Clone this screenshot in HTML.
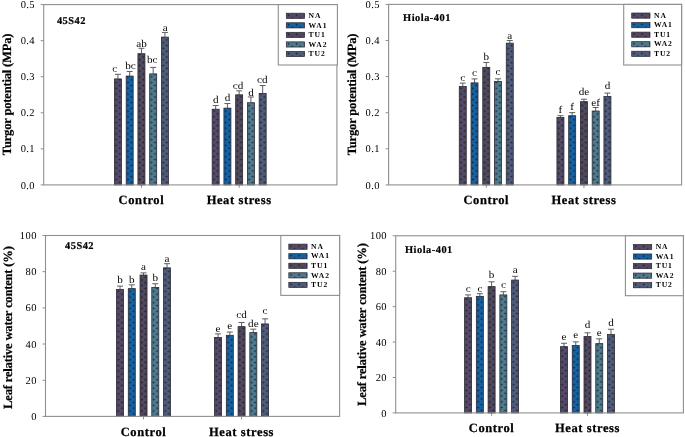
<!DOCTYPE html>
<html><head><meta charset="utf-8"><style>
html,body{margin:0;padding:0;background:#fff;width:685px;height:437px;overflow:hidden}
svg{display:block;filter:blur(0.3px)}
text{font-family:"Liberation Serif",serif;fill:#000;text-rendering:geometricPrecision}
.tk{font-size:10.5px;letter-spacing:0.4px}
.cat{font-size:12.5px;font-weight:bold;letter-spacing:0.6px;stroke:#000;stroke-width:0.25px}
.let{font-size:10.3px}
.pl{font-size:10.4px;font-weight:bold;letter-spacing:0.5px;stroke:#000;stroke-width:0.2px}
.yt{font-size:12.6px;font-weight:bold;letter-spacing:-0.2px;stroke:#000;stroke-width:0.2px}
.lg{font-size:7.6px;font-weight:bold;letter-spacing:0.9px}
</style></head><body>
<svg width="685" height="437" viewBox="0 0 685 437">
<defs><pattern id="btl00" patternUnits="userSpaceOnUse" x="114.43" y="183.80" width="8" height="5.7"><rect width="8" height="5.7" fill="#544a68"/><path d="M1.0 0.15 L3.2 1.4 L1.0 2.65 Z" fill="#1c1a22" opacity="0.85"/><path d="M6.1 3.0 L3.9 4.25 L6.1 5.5 Z" fill="#1c1a22" opacity="0.85"/></pattern><pattern id="btl01" patternUnits="userSpaceOnUse" x="126.18" y="183.80" width="8" height="5.7"><rect width="8" height="5.7" fill="#1362a4"/><path d="M1.0 0.15 L3.2 1.4 L1.0 2.65 Z" fill="#1c1a22" opacity="0.85"/><path d="M6.1 3.0 L3.9 4.25 L6.1 5.5 Z" fill="#1c1a22" opacity="0.85"/></pattern><pattern id="btl02" patternUnits="userSpaceOnUse" x="137.93" y="183.80" width="8" height="5.7"><rect width="8" height="5.7" fill="#50485c"/><path d="M1.0 0.15 L3.2 1.4 L1.0 2.65 Z" fill="#1c1a22" opacity="0.85"/><path d="M6.1 3.0 L3.9 4.25 L6.1 5.5 Z" fill="#1c1a22" opacity="0.85"/></pattern><pattern id="btl03" patternUnits="userSpaceOnUse" x="149.68" y="183.80" width="8" height="5.7"><rect width="8" height="5.7" fill="#4d7b8e"/><path d="M1.0 0.15 L3.2 1.4 L1.0 2.65 Z" fill="#1c1a22" opacity="0.85"/><path d="M6.1 3.0 L3.9 4.25 L6.1 5.5 Z" fill="#1c1a22" opacity="0.85"/></pattern><pattern id="btl04" patternUnits="userSpaceOnUse" x="161.43" y="183.80" width="8" height="5.7"><rect width="8" height="5.7" fill="#4e5b79"/><path d="M1.0 0.15 L3.2 1.4 L1.0 2.65 Z" fill="#1c1a22" opacity="0.85"/><path d="M6.1 3.0 L3.9 4.25 L6.1 5.5 Z" fill="#1c1a22" opacity="0.85"/></pattern><pattern id="btl10" patternUnits="userSpaceOnUse" x="212.17" y="183.80" width="8" height="5.7"><rect width="8" height="5.7" fill="#544a68"/><path d="M1.0 0.15 L3.2 1.4 L1.0 2.65 Z" fill="#1c1a22" opacity="0.85"/><path d="M6.1 3.0 L3.9 4.25 L6.1 5.5 Z" fill="#1c1a22" opacity="0.85"/></pattern><pattern id="btl11" patternUnits="userSpaceOnUse" x="223.92" y="183.80" width="8" height="5.7"><rect width="8" height="5.7" fill="#1362a4"/><path d="M1.0 0.15 L3.2 1.4 L1.0 2.65 Z" fill="#1c1a22" opacity="0.85"/><path d="M6.1 3.0 L3.9 4.25 L6.1 5.5 Z" fill="#1c1a22" opacity="0.85"/></pattern><pattern id="btl12" patternUnits="userSpaceOnUse" x="235.67" y="183.80" width="8" height="5.7"><rect width="8" height="5.7" fill="#50485c"/><path d="M1.0 0.15 L3.2 1.4 L1.0 2.65 Z" fill="#1c1a22" opacity="0.85"/><path d="M6.1 3.0 L3.9 4.25 L6.1 5.5 Z" fill="#1c1a22" opacity="0.85"/></pattern><pattern id="btl13" patternUnits="userSpaceOnUse" x="247.42" y="183.80" width="8" height="5.7"><rect width="8" height="5.7" fill="#4d7b8e"/><path d="M1.0 0.15 L3.2 1.4 L1.0 2.65 Z" fill="#1c1a22" opacity="0.85"/><path d="M6.1 3.0 L3.9 4.25 L6.1 5.5 Z" fill="#1c1a22" opacity="0.85"/></pattern><pattern id="btl14" patternUnits="userSpaceOnUse" x="259.17" y="183.80" width="8" height="5.7"><rect width="8" height="5.7" fill="#4e5b79"/><path d="M1.0 0.15 L3.2 1.4 L1.0 2.65 Z" fill="#1c1a22" opacity="0.85"/><path d="M6.1 3.0 L3.9 4.25 L6.1 5.5 Z" fill="#1c1a22" opacity="0.85"/></pattern><pattern id="ltl0" patternUnits="userSpaceOnUse" x="286.80" y="13.80" width="8" height="5.7"><rect width="8" height="5.7" fill="#544a68"/><path d="M1.0 0.15 L3.2 1.4 L1.0 2.65 Z" fill="#1c1a22" opacity="0.85"/><path d="M6.1 3.0 L3.9 4.25 L6.1 5.5 Z" fill="#1c1a22" opacity="0.85"/></pattern><pattern id="ltl1" patternUnits="userSpaceOnUse" x="286.80" y="23.35" width="8" height="5.7"><rect width="8" height="5.7" fill="#1362a4"/><path d="M1.0 0.15 L3.2 1.4 L1.0 2.65 Z" fill="#1c1a22" opacity="0.85"/><path d="M6.1 3.0 L3.9 4.25 L6.1 5.5 Z" fill="#1c1a22" opacity="0.85"/></pattern><pattern id="ltl2" patternUnits="userSpaceOnUse" x="286.80" y="32.90" width="8" height="5.7"><rect width="8" height="5.7" fill="#50485c"/><path d="M1.0 0.15 L3.2 1.4 L1.0 2.65 Z" fill="#1c1a22" opacity="0.85"/><path d="M6.1 3.0 L3.9 4.25 L6.1 5.5 Z" fill="#1c1a22" opacity="0.85"/></pattern><pattern id="ltl3" patternUnits="userSpaceOnUse" x="286.80" y="42.45" width="8" height="5.7"><rect width="8" height="5.7" fill="#4d7b8e"/><path d="M1.0 0.15 L3.2 1.4 L1.0 2.65 Z" fill="#1c1a22" opacity="0.85"/><path d="M6.1 3.0 L3.9 4.25 L6.1 5.5 Z" fill="#1c1a22" opacity="0.85"/></pattern><pattern id="ltl4" patternUnits="userSpaceOnUse" x="286.80" y="52.00" width="8" height="5.7"><rect width="8" height="5.7" fill="#4e5b79"/><path d="M1.0 0.15 L3.2 1.4 L1.0 2.65 Z" fill="#1c1a22" opacity="0.85"/><path d="M6.1 3.0 L3.9 4.25 L6.1 5.5 Z" fill="#1c1a22" opacity="0.85"/></pattern><pattern id="btr00" patternUnits="userSpaceOnUse" x="459.27" y="183.80" width="8" height="5.7"><rect width="8" height="5.7" fill="#544a68"/><path d="M1.0 0.15 L3.2 1.4 L1.0 2.65 Z" fill="#1c1a22" opacity="0.85"/><path d="M6.1 3.0 L3.9 4.25 L6.1 5.5 Z" fill="#1c1a22" opacity="0.85"/></pattern><pattern id="btr01" patternUnits="userSpaceOnUse" x="471.02" y="183.80" width="8" height="5.7"><rect width="8" height="5.7" fill="#1362a4"/><path d="M1.0 0.15 L3.2 1.4 L1.0 2.65 Z" fill="#1c1a22" opacity="0.85"/><path d="M6.1 3.0 L3.9 4.25 L6.1 5.5 Z" fill="#1c1a22" opacity="0.85"/></pattern><pattern id="btr02" patternUnits="userSpaceOnUse" x="482.77" y="183.80" width="8" height="5.7"><rect width="8" height="5.7" fill="#50485c"/><path d="M1.0 0.15 L3.2 1.4 L1.0 2.65 Z" fill="#1c1a22" opacity="0.85"/><path d="M6.1 3.0 L3.9 4.25 L6.1 5.5 Z" fill="#1c1a22" opacity="0.85"/></pattern><pattern id="btr03" patternUnits="userSpaceOnUse" x="494.52" y="183.80" width="8" height="5.7"><rect width="8" height="5.7" fill="#4d7b8e"/><path d="M1.0 0.15 L3.2 1.4 L1.0 2.65 Z" fill="#1c1a22" opacity="0.85"/><path d="M6.1 3.0 L3.9 4.25 L6.1 5.5 Z" fill="#1c1a22" opacity="0.85"/></pattern><pattern id="btr04" patternUnits="userSpaceOnUse" x="506.27" y="183.80" width="8" height="5.7"><rect width="8" height="5.7" fill="#4e5b79"/><path d="M1.0 0.15 L3.2 1.4 L1.0 2.65 Z" fill="#1c1a22" opacity="0.85"/><path d="M6.1 3.0 L3.9 4.25 L6.1 5.5 Z" fill="#1c1a22" opacity="0.85"/></pattern><pattern id="btr10" patternUnits="userSpaceOnUse" x="556.93" y="183.80" width="8" height="5.7"><rect width="8" height="5.7" fill="#544a68"/><path d="M1.0 0.15 L3.2 1.4 L1.0 2.65 Z" fill="#1c1a22" opacity="0.85"/><path d="M6.1 3.0 L3.9 4.25 L6.1 5.5 Z" fill="#1c1a22" opacity="0.85"/></pattern><pattern id="btr11" patternUnits="userSpaceOnUse" x="568.68" y="183.80" width="8" height="5.7"><rect width="8" height="5.7" fill="#1362a4"/><path d="M1.0 0.15 L3.2 1.4 L1.0 2.65 Z" fill="#1c1a22" opacity="0.85"/><path d="M6.1 3.0 L3.9 4.25 L6.1 5.5 Z" fill="#1c1a22" opacity="0.85"/></pattern><pattern id="btr12" patternUnits="userSpaceOnUse" x="580.43" y="183.80" width="8" height="5.7"><rect width="8" height="5.7" fill="#50485c"/><path d="M1.0 0.15 L3.2 1.4 L1.0 2.65 Z" fill="#1c1a22" opacity="0.85"/><path d="M6.1 3.0 L3.9 4.25 L6.1 5.5 Z" fill="#1c1a22" opacity="0.85"/></pattern><pattern id="btr13" patternUnits="userSpaceOnUse" x="592.18" y="183.80" width="8" height="5.7"><rect width="8" height="5.7" fill="#4d7b8e"/><path d="M1.0 0.15 L3.2 1.4 L1.0 2.65 Z" fill="#1c1a22" opacity="0.85"/><path d="M6.1 3.0 L3.9 4.25 L6.1 5.5 Z" fill="#1c1a22" opacity="0.85"/></pattern><pattern id="btr14" patternUnits="userSpaceOnUse" x="603.93" y="183.80" width="8" height="5.7"><rect width="8" height="5.7" fill="#4e5b79"/><path d="M1.0 0.15 L3.2 1.4 L1.0 2.65 Z" fill="#1c1a22" opacity="0.85"/><path d="M6.1 3.0 L3.9 4.25 L6.1 5.5 Z" fill="#1c1a22" opacity="0.85"/></pattern><pattern id="ltr0" patternUnits="userSpaceOnUse" x="632.20" y="13.60" width="8" height="5.7"><rect width="8" height="5.7" fill="#544a68"/><path d="M1.0 0.15 L3.2 1.4 L1.0 2.65 Z" fill="#1c1a22" opacity="0.85"/><path d="M6.1 3.0 L3.9 4.25 L6.1 5.5 Z" fill="#1c1a22" opacity="0.85"/></pattern><pattern id="ltr1" patternUnits="userSpaceOnUse" x="632.20" y="23.15" width="8" height="5.7"><rect width="8" height="5.7" fill="#1362a4"/><path d="M1.0 0.15 L3.2 1.4 L1.0 2.65 Z" fill="#1c1a22" opacity="0.85"/><path d="M6.1 3.0 L3.9 4.25 L6.1 5.5 Z" fill="#1c1a22" opacity="0.85"/></pattern><pattern id="ltr2" patternUnits="userSpaceOnUse" x="632.20" y="32.70" width="8" height="5.7"><rect width="8" height="5.7" fill="#50485c"/><path d="M1.0 0.15 L3.2 1.4 L1.0 2.65 Z" fill="#1c1a22" opacity="0.85"/><path d="M6.1 3.0 L3.9 4.25 L6.1 5.5 Z" fill="#1c1a22" opacity="0.85"/></pattern><pattern id="ltr3" patternUnits="userSpaceOnUse" x="632.20" y="42.25" width="8" height="5.7"><rect width="8" height="5.7" fill="#4d7b8e"/><path d="M1.0 0.15 L3.2 1.4 L1.0 2.65 Z" fill="#1c1a22" opacity="0.85"/><path d="M6.1 3.0 L3.9 4.25 L6.1 5.5 Z" fill="#1c1a22" opacity="0.85"/></pattern><pattern id="ltr4" patternUnits="userSpaceOnUse" x="632.20" y="51.80" width="8" height="5.7"><rect width="8" height="5.7" fill="#4e5b79"/><path d="M1.0 0.15 L3.2 1.4 L1.0 2.65 Z" fill="#1c1a22" opacity="0.85"/><path d="M6.1 3.0 L3.9 4.25 L6.1 5.5 Z" fill="#1c1a22" opacity="0.85"/></pattern><pattern id="bbl00" patternUnits="userSpaceOnUse" x="116.53" y="415.30" width="8" height="5.7"><rect width="8" height="5.7" fill="#544a68"/><path d="M1.0 0.15 L3.2 1.4 L1.0 2.65 Z" fill="#1c1a22" opacity="0.85"/><path d="M6.1 3.0 L3.9 4.25 L6.1 5.5 Z" fill="#1c1a22" opacity="0.85"/></pattern><pattern id="bbl01" patternUnits="userSpaceOnUse" x="128.28" y="415.30" width="8" height="5.7"><rect width="8" height="5.7" fill="#1362a4"/><path d="M1.0 0.15 L3.2 1.4 L1.0 2.65 Z" fill="#1c1a22" opacity="0.85"/><path d="M6.1 3.0 L3.9 4.25 L6.1 5.5 Z" fill="#1c1a22" opacity="0.85"/></pattern><pattern id="bbl02" patternUnits="userSpaceOnUse" x="140.03" y="415.30" width="8" height="5.7"><rect width="8" height="5.7" fill="#50485c"/><path d="M1.0 0.15 L3.2 1.4 L1.0 2.65 Z" fill="#1c1a22" opacity="0.85"/><path d="M6.1 3.0 L3.9 4.25 L6.1 5.5 Z" fill="#1c1a22" opacity="0.85"/></pattern><pattern id="bbl03" patternUnits="userSpaceOnUse" x="151.78" y="415.30" width="8" height="5.7"><rect width="8" height="5.7" fill="#4d7b8e"/><path d="M1.0 0.15 L3.2 1.4 L1.0 2.65 Z" fill="#1c1a22" opacity="0.85"/><path d="M6.1 3.0 L3.9 4.25 L6.1 5.5 Z" fill="#1c1a22" opacity="0.85"/></pattern><pattern id="bbl04" patternUnits="userSpaceOnUse" x="163.53" y="415.30" width="8" height="5.7"><rect width="8" height="5.7" fill="#4e5b79"/><path d="M1.0 0.15 L3.2 1.4 L1.0 2.65 Z" fill="#1c1a22" opacity="0.85"/><path d="M6.1 3.0 L3.9 4.25 L6.1 5.5 Z" fill="#1c1a22" opacity="0.85"/></pattern><pattern id="bbl10" patternUnits="userSpaceOnUse" x="214.57" y="415.30" width="8" height="5.7"><rect width="8" height="5.7" fill="#544a68"/><path d="M1.0 0.15 L3.2 1.4 L1.0 2.65 Z" fill="#1c1a22" opacity="0.85"/><path d="M6.1 3.0 L3.9 4.25 L6.1 5.5 Z" fill="#1c1a22" opacity="0.85"/></pattern><pattern id="bbl11" patternUnits="userSpaceOnUse" x="226.32" y="415.30" width="8" height="5.7"><rect width="8" height="5.7" fill="#1362a4"/><path d="M1.0 0.15 L3.2 1.4 L1.0 2.65 Z" fill="#1c1a22" opacity="0.85"/><path d="M6.1 3.0 L3.9 4.25 L6.1 5.5 Z" fill="#1c1a22" opacity="0.85"/></pattern><pattern id="bbl12" patternUnits="userSpaceOnUse" x="238.07" y="415.30" width="8" height="5.7"><rect width="8" height="5.7" fill="#50485c"/><path d="M1.0 0.15 L3.2 1.4 L1.0 2.65 Z" fill="#1c1a22" opacity="0.85"/><path d="M6.1 3.0 L3.9 4.25 L6.1 5.5 Z" fill="#1c1a22" opacity="0.85"/></pattern><pattern id="bbl13" patternUnits="userSpaceOnUse" x="249.82" y="415.30" width="8" height="5.7"><rect width="8" height="5.7" fill="#4d7b8e"/><path d="M1.0 0.15 L3.2 1.4 L1.0 2.65 Z" fill="#1c1a22" opacity="0.85"/><path d="M6.1 3.0 L3.9 4.25 L6.1 5.5 Z" fill="#1c1a22" opacity="0.85"/></pattern><pattern id="bbl14" patternUnits="userSpaceOnUse" x="261.57" y="415.30" width="8" height="5.7"><rect width="8" height="5.7" fill="#4e5b79"/><path d="M1.0 0.15 L3.2 1.4 L1.0 2.65 Z" fill="#1c1a22" opacity="0.85"/><path d="M6.1 3.0 L3.9 4.25 L6.1 5.5 Z" fill="#1c1a22" opacity="0.85"/></pattern><pattern id="lbl0" patternUnits="userSpaceOnUse" x="289.30" y="244.70" width="8" height="5.7"><rect width="8" height="5.7" fill="#544a68"/><path d="M1.0 0.15 L3.2 1.4 L1.0 2.65 Z" fill="#1c1a22" opacity="0.85"/><path d="M6.1 3.0 L3.9 4.25 L6.1 5.5 Z" fill="#1c1a22" opacity="0.85"/></pattern><pattern id="lbl1" patternUnits="userSpaceOnUse" x="289.30" y="254.25" width="8" height="5.7"><rect width="8" height="5.7" fill="#1362a4"/><path d="M1.0 0.15 L3.2 1.4 L1.0 2.65 Z" fill="#1c1a22" opacity="0.85"/><path d="M6.1 3.0 L3.9 4.25 L6.1 5.5 Z" fill="#1c1a22" opacity="0.85"/></pattern><pattern id="lbl2" patternUnits="userSpaceOnUse" x="289.30" y="263.80" width="8" height="5.7"><rect width="8" height="5.7" fill="#50485c"/><path d="M1.0 0.15 L3.2 1.4 L1.0 2.65 Z" fill="#1c1a22" opacity="0.85"/><path d="M6.1 3.0 L3.9 4.25 L6.1 5.5 Z" fill="#1c1a22" opacity="0.85"/></pattern><pattern id="lbl3" patternUnits="userSpaceOnUse" x="289.30" y="273.35" width="8" height="5.7"><rect width="8" height="5.7" fill="#4d7b8e"/><path d="M1.0 0.15 L3.2 1.4 L1.0 2.65 Z" fill="#1c1a22" opacity="0.85"/><path d="M6.1 3.0 L3.9 4.25 L6.1 5.5 Z" fill="#1c1a22" opacity="0.85"/></pattern><pattern id="lbl4" patternUnits="userSpaceOnUse" x="289.30" y="282.90" width="8" height="5.7"><rect width="8" height="5.7" fill="#4e5b79"/><path d="M1.0 0.15 L3.2 1.4 L1.0 2.65 Z" fill="#1c1a22" opacity="0.85"/><path d="M6.1 3.0 L3.9 4.25 L6.1 5.5 Z" fill="#1c1a22" opacity="0.85"/></pattern><pattern id="bbr00" patternUnits="userSpaceOnUse" x="464.60" y="411.80" width="8" height="5.7"><rect width="8" height="5.7" fill="#544a68"/><path d="M1.0 0.15 L3.2 1.4 L1.0 2.65 Z" fill="#1c1a22" opacity="0.85"/><path d="M6.1 3.0 L3.9 4.25 L6.1 5.5 Z" fill="#1c1a22" opacity="0.85"/></pattern><pattern id="bbr01" patternUnits="userSpaceOnUse" x="476.35" y="411.80" width="8" height="5.7"><rect width="8" height="5.7" fill="#1362a4"/><path d="M1.0 0.15 L3.2 1.4 L1.0 2.65 Z" fill="#1c1a22" opacity="0.85"/><path d="M6.1 3.0 L3.9 4.25 L6.1 5.5 Z" fill="#1c1a22" opacity="0.85"/></pattern><pattern id="bbr02" patternUnits="userSpaceOnUse" x="488.10" y="411.80" width="8" height="5.7"><rect width="8" height="5.7" fill="#50485c"/><path d="M1.0 0.15 L3.2 1.4 L1.0 2.65 Z" fill="#1c1a22" opacity="0.85"/><path d="M6.1 3.0 L3.9 4.25 L6.1 5.5 Z" fill="#1c1a22" opacity="0.85"/></pattern><pattern id="bbr03" patternUnits="userSpaceOnUse" x="499.85" y="411.80" width="8" height="5.7"><rect width="8" height="5.7" fill="#4d7b8e"/><path d="M1.0 0.15 L3.2 1.4 L1.0 2.65 Z" fill="#1c1a22" opacity="0.85"/><path d="M6.1 3.0 L3.9 4.25 L6.1 5.5 Z" fill="#1c1a22" opacity="0.85"/></pattern><pattern id="bbr04" patternUnits="userSpaceOnUse" x="511.60" y="411.80" width="8" height="5.7"><rect width="8" height="5.7" fill="#4e5b79"/><path d="M1.0 0.15 L3.2 1.4 L1.0 2.65 Z" fill="#1c1a22" opacity="0.85"/><path d="M6.1 3.0 L3.9 4.25 L6.1 5.5 Z" fill="#1c1a22" opacity="0.85"/></pattern><pattern id="bbr10" patternUnits="userSpaceOnUse" x="560.50" y="411.80" width="8" height="5.7"><rect width="8" height="5.7" fill="#544a68"/><path d="M1.0 0.15 L3.2 1.4 L1.0 2.65 Z" fill="#1c1a22" opacity="0.85"/><path d="M6.1 3.0 L3.9 4.25 L6.1 5.5 Z" fill="#1c1a22" opacity="0.85"/></pattern><pattern id="bbr11" patternUnits="userSpaceOnUse" x="572.25" y="411.80" width="8" height="5.7"><rect width="8" height="5.7" fill="#1362a4"/><path d="M1.0 0.15 L3.2 1.4 L1.0 2.65 Z" fill="#1c1a22" opacity="0.85"/><path d="M6.1 3.0 L3.9 4.25 L6.1 5.5 Z" fill="#1c1a22" opacity="0.85"/></pattern><pattern id="bbr12" patternUnits="userSpaceOnUse" x="584.00" y="411.80" width="8" height="5.7"><rect width="8" height="5.7" fill="#50485c"/><path d="M1.0 0.15 L3.2 1.4 L1.0 2.65 Z" fill="#1c1a22" opacity="0.85"/><path d="M6.1 3.0 L3.9 4.25 L6.1 5.5 Z" fill="#1c1a22" opacity="0.85"/></pattern><pattern id="bbr13" patternUnits="userSpaceOnUse" x="595.75" y="411.80" width="8" height="5.7"><rect width="8" height="5.7" fill="#4d7b8e"/><path d="M1.0 0.15 L3.2 1.4 L1.0 2.65 Z" fill="#1c1a22" opacity="0.85"/><path d="M6.1 3.0 L3.9 4.25 L6.1 5.5 Z" fill="#1c1a22" opacity="0.85"/></pattern><pattern id="bbr14" patternUnits="userSpaceOnUse" x="607.50" y="411.80" width="8" height="5.7"><rect width="8" height="5.7" fill="#4e5b79"/><path d="M1.0 0.15 L3.2 1.4 L1.0 2.65 Z" fill="#1c1a22" opacity="0.85"/><path d="M6.1 3.0 L3.9 4.25 L6.1 5.5 Z" fill="#1c1a22" opacity="0.85"/></pattern><pattern id="lbr0" patternUnits="userSpaceOnUse" x="633.90" y="245.00" width="8" height="5.7"><rect width="8" height="5.7" fill="#544a68"/><path d="M1.0 0.15 L3.2 1.4 L1.0 2.65 Z" fill="#1c1a22" opacity="0.85"/><path d="M6.1 3.0 L3.9 4.25 L6.1 5.5 Z" fill="#1c1a22" opacity="0.85"/></pattern><pattern id="lbr1" patternUnits="userSpaceOnUse" x="633.90" y="254.55" width="8" height="5.7"><rect width="8" height="5.7" fill="#1362a4"/><path d="M1.0 0.15 L3.2 1.4 L1.0 2.65 Z" fill="#1c1a22" opacity="0.85"/><path d="M6.1 3.0 L3.9 4.25 L6.1 5.5 Z" fill="#1c1a22" opacity="0.85"/></pattern><pattern id="lbr2" patternUnits="userSpaceOnUse" x="633.90" y="264.10" width="8" height="5.7"><rect width="8" height="5.7" fill="#50485c"/><path d="M1.0 0.15 L3.2 1.4 L1.0 2.65 Z" fill="#1c1a22" opacity="0.85"/><path d="M6.1 3.0 L3.9 4.25 L6.1 5.5 Z" fill="#1c1a22" opacity="0.85"/></pattern><pattern id="lbr3" patternUnits="userSpaceOnUse" x="633.90" y="273.65" width="8" height="5.7"><rect width="8" height="5.7" fill="#4d7b8e"/><path d="M1.0 0.15 L3.2 1.4 L1.0 2.65 Z" fill="#1c1a22" opacity="0.85"/><path d="M6.1 3.0 L3.9 4.25 L6.1 5.5 Z" fill="#1c1a22" opacity="0.85"/></pattern><pattern id="lbr4" patternUnits="userSpaceOnUse" x="633.90" y="283.20" width="8" height="5.7"><rect width="8" height="5.7" fill="#4e5b79"/><path d="M1.0 0.15 L3.2 1.4 L1.0 2.65 Z" fill="#1c1a22" opacity="0.85"/><path d="M6.1 3.0 L3.9 4.25 L6.1 5.5 Z" fill="#1c1a22" opacity="0.85"/></pattern></defs>
<rect width="685" height="437" fill="#fff"/>
<line x1="40.70" y1="184.90" x2="43.7" y2="184.90" stroke="#8f8f8f" stroke-width="1"/>
<text x="35.00" y="188.50" text-anchor="end" class="tk">0.0</text>
<line x1="40.70" y1="148.84" x2="43.7" y2="148.84" stroke="#8f8f8f" stroke-width="1"/>
<text x="35.00" y="152.44" text-anchor="end" class="tk">0.1</text>
<line x1="40.70" y1="112.78" x2="43.7" y2="112.78" stroke="#8f8f8f" stroke-width="1"/>
<text x="35.00" y="116.38" text-anchor="end" class="tk">0.2</text>
<line x1="40.70" y1="76.72" x2="43.7" y2="76.72" stroke="#8f8f8f" stroke-width="1"/>
<text x="35.00" y="80.32" text-anchor="end" class="tk">0.3</text>
<line x1="40.70" y1="40.66" x2="43.7" y2="40.66" stroke="#8f8f8f" stroke-width="1"/>
<text x="35.00" y="44.26" text-anchor="end" class="tk">0.4</text>
<line x1="40.70" y1="4.60" x2="43.7" y2="4.60" stroke="#8f8f8f" stroke-width="1"/>
<text x="35.00" y="8.20" text-anchor="end" class="tk">0.5</text>
<line x1="141.43" y1="184.9" x2="141.43" y2="187.9" stroke="#8f8f8f" stroke-width="1"/>
<text x="141.43" y="204.40" text-anchor="middle" class="cat">Control</text>
<line x1="117.93" y1="78.94" x2="117.93" y2="74.33" stroke="#5e5e5e" stroke-width="1"/>
<line x1="114.93" y1="74.33" x2="120.93" y2="74.33" stroke="#5e5e5e" stroke-width="1"/>
<rect x="114.43" y="78.94" width="7.0" height="105.96" fill="url(#btl00)" stroke="#2a2733" stroke-width="0.8"/>
<text transform="translate(114.65,71.80) scale(1.08,1)" text-anchor="middle" class="let">c</text>
<line x1="129.68" y1="76.06" x2="129.68" y2="71.44" stroke="#5e5e5e" stroke-width="1"/>
<line x1="126.68" y1="71.44" x2="132.68" y2="71.44" stroke="#5e5e5e" stroke-width="1"/>
<rect x="126.18" y="76.06" width="7.0" height="108.84" fill="url(#btl01)" stroke="#2a2733" stroke-width="0.8"/>
<text transform="translate(130.50,68.70) scale(1.08,1)" text-anchor="middle" class="let">bc</text>
<line x1="141.43" y1="53.70" x2="141.43" y2="48.29" stroke="#5e5e5e" stroke-width="1"/>
<line x1="138.43" y1="48.29" x2="144.43" y2="48.29" stroke="#5e5e5e" stroke-width="1"/>
<rect x="137.93" y="53.70" width="7.0" height="131.20" fill="url(#btl02)" stroke="#2a2733" stroke-width="0.8"/>
<text transform="translate(141.60,47.20) scale(1.08,1)" text-anchor="middle" class="let">ab</text>
<line x1="153.18" y1="73.90" x2="153.18" y2="67.41" stroke="#5e5e5e" stroke-width="1"/>
<line x1="150.18" y1="67.41" x2="156.18" y2="67.41" stroke="#5e5e5e" stroke-width="1"/>
<rect x="149.68" y="73.90" width="7.0" height="111.00" fill="url(#btl03)" stroke="#2a2733" stroke-width="0.8"/>
<text transform="translate(152.30,63.00) scale(1.08,1)" text-anchor="middle" class="let">bc</text>
<line x1="164.93" y1="37.11" x2="164.93" y2="32.43" stroke="#5e5e5e" stroke-width="1"/>
<line x1="161.93" y1="32.43" x2="167.93" y2="32.43" stroke="#5e5e5e" stroke-width="1"/>
<rect x="161.43" y="37.11" width="7.0" height="147.79" fill="url(#btl04)" stroke="#2a2733" stroke-width="0.8"/>
<text transform="translate(165.30,31.00) scale(1.08,1)" text-anchor="middle" class="let">a</text>
<line x1="239.17" y1="184.9" x2="239.17" y2="187.9" stroke="#8f8f8f" stroke-width="1"/>
<text x="239.17" y="204.40" text-anchor="middle" class="cat">Heat stress</text>
<line x1="215.67" y1="109.23" x2="215.67" y2="105.52" stroke="#5e5e5e" stroke-width="1"/>
<line x1="212.67" y1="105.52" x2="218.67" y2="105.52" stroke="#5e5e5e" stroke-width="1"/>
<rect x="212.17" y="109.23" width="7.0" height="75.67" fill="url(#btl10)" stroke="#2a2733" stroke-width="0.8"/>
<text transform="translate(215.67,103.10) scale(1.08,1)" text-anchor="middle" class="let">d</text>
<line x1="227.42" y1="108.15" x2="227.42" y2="103.54" stroke="#5e5e5e" stroke-width="1"/>
<line x1="224.42" y1="103.54" x2="230.42" y2="103.54" stroke="#5e5e5e" stroke-width="1"/>
<rect x="223.92" y="108.15" width="7.0" height="76.75" fill="url(#btl11)" stroke="#2a2733" stroke-width="0.8"/>
<text transform="translate(227.42,101.00) scale(1.08,1)" text-anchor="middle" class="let">d</text>
<line x1="239.17" y1="94.81" x2="239.17" y2="90.84" stroke="#5e5e5e" stroke-width="1"/>
<line x1="236.17" y1="90.84" x2="242.17" y2="90.84" stroke="#5e5e5e" stroke-width="1"/>
<rect x="235.67" y="94.81" width="7.0" height="90.09" fill="url(#btl12)" stroke="#2a2733" stroke-width="0.8"/>
<text transform="translate(238.10,88.90) scale(1.08,1)" text-anchor="middle" class="let">cd</text>
<line x1="250.92" y1="102.74" x2="250.92" y2="96.97" stroke="#5e5e5e" stroke-width="1"/>
<line x1="247.92" y1="96.97" x2="253.92" y2="96.97" stroke="#5e5e5e" stroke-width="1"/>
<rect x="247.42" y="102.74" width="7.0" height="82.16" fill="url(#btl13)" stroke="#2a2733" stroke-width="0.8"/>
<text transform="translate(250.92,95.50) scale(1.08,1)" text-anchor="middle" class="let">d</text>
<line x1="262.67" y1="93.37" x2="262.67" y2="85.54" stroke="#5e5e5e" stroke-width="1"/>
<line x1="259.67" y1="85.54" x2="265.67" y2="85.54" stroke="#5e5e5e" stroke-width="1"/>
<rect x="259.17" y="93.37" width="7.0" height="91.53" fill="url(#btl14)" stroke="#2a2733" stroke-width="0.8"/>
<text transform="translate(262.20,82.90) scale(1.08,1)" text-anchor="middle" class="let">cd</text>
<rect x="43.7" y="4.6" width="293.20" height="180.30" fill="none" stroke="#8f8f8f" stroke-width="1.1"/>
<text x="56.9" y="23.9" class="pl">45S42</text>
<text transform="translate(10.5,94.4) rotate(-90)" text-anchor="middle" class="yt">Turgor potential (MPa)</text>
<rect x="278.3" y="4.6" width="59.10" height="60.40" fill="#fff" stroke="#8f8f8f" stroke-width="1.1"/>
<rect x="286.30" y="13.20" width="18.3" height="5.2" fill="url(#ltl0)" stroke="#2a2733" stroke-width="0.7"/>
<text x="308.60" y="18.00" class="lg">NA</text>
<rect x="286.30" y="22.75" width="18.3" height="5.2" fill="url(#ltl1)" stroke="#2a2733" stroke-width="0.7"/>
<text x="308.60" y="27.55" class="lg">WA1</text>
<rect x="286.30" y="32.30" width="18.3" height="5.2" fill="url(#ltl2)" stroke="#2a2733" stroke-width="0.7"/>
<text x="308.60" y="37.10" class="lg">TU1</text>
<rect x="286.30" y="41.85" width="18.3" height="5.2" fill="url(#ltl3)" stroke="#2a2733" stroke-width="0.7"/>
<text x="308.60" y="46.65" class="lg">WA2</text>
<rect x="286.30" y="51.40" width="18.3" height="5.2" fill="url(#ltl4)" stroke="#2a2733" stroke-width="0.7"/>
<text x="308.60" y="56.20" class="lg">TU2</text>
<line x1="385.60" y1="184.90" x2="388.6" y2="184.90" stroke="#8f8f8f" stroke-width="1"/>
<text x="379.90" y="188.50" text-anchor="end" class="tk">0.0</text>
<line x1="385.60" y1="148.80" x2="388.6" y2="148.80" stroke="#8f8f8f" stroke-width="1"/>
<text x="379.90" y="152.40" text-anchor="end" class="tk">0.1</text>
<line x1="385.60" y1="112.70" x2="388.6" y2="112.70" stroke="#8f8f8f" stroke-width="1"/>
<text x="379.90" y="116.30" text-anchor="end" class="tk">0.2</text>
<line x1="385.60" y1="76.60" x2="388.6" y2="76.60" stroke="#8f8f8f" stroke-width="1"/>
<text x="379.90" y="80.20" text-anchor="end" class="tk">0.3</text>
<line x1="385.60" y1="40.50" x2="388.6" y2="40.50" stroke="#8f8f8f" stroke-width="1"/>
<text x="379.90" y="44.10" text-anchor="end" class="tk">0.4</text>
<line x1="385.60" y1="4.40" x2="388.6" y2="4.40" stroke="#8f8f8f" stroke-width="1"/>
<text x="379.90" y="8.00" text-anchor="end" class="tk">0.5</text>
<line x1="486.27" y1="184.9" x2="486.27" y2="187.9" stroke="#8f8f8f" stroke-width="1"/>
<text x="486.27" y="204.40" text-anchor="middle" class="cat">Control</text>
<line x1="462.77" y1="86.49" x2="462.77" y2="83.09" stroke="#5e5e5e" stroke-width="1"/>
<line x1="459.77" y1="83.09" x2="465.77" y2="83.09" stroke="#5e5e5e" stroke-width="1"/>
<rect x="459.27" y="86.49" width="7.0" height="98.41" fill="url(#btr00)" stroke="#2a2733" stroke-width="0.8"/>
<text transform="translate(462.77,80.90) scale(1.08,1)" text-anchor="middle" class="let">c</text>
<line x1="474.52" y1="82.88" x2="474.52" y2="78.91" stroke="#5e5e5e" stroke-width="1"/>
<line x1="471.52" y1="78.91" x2="477.52" y2="78.91" stroke="#5e5e5e" stroke-width="1"/>
<rect x="471.02" y="82.88" width="7.0" height="102.02" fill="url(#btr01)" stroke="#2a2733" stroke-width="0.8"/>
<text transform="translate(474.52,76.10) scale(1.08,1)" text-anchor="middle" class="let">c</text>
<line x1="486.27" y1="67.35" x2="486.27" y2="62.44" stroke="#5e5e5e" stroke-width="1"/>
<line x1="483.27" y1="62.44" x2="489.27" y2="62.44" stroke="#5e5e5e" stroke-width="1"/>
<rect x="482.77" y="67.35" width="7.0" height="117.55" fill="url(#btr02)" stroke="#2a2733" stroke-width="0.8"/>
<text transform="translate(486.27,60.30) scale(1.08,1)" text-anchor="middle" class="let">b</text>
<line x1="498.02" y1="81.43" x2="498.02" y2="78.83" stroke="#5e5e5e" stroke-width="1"/>
<line x1="495.02" y1="78.83" x2="501.02" y2="78.83" stroke="#5e5e5e" stroke-width="1"/>
<rect x="494.52" y="81.43" width="7.0" height="103.47" fill="url(#btr03)" stroke="#2a2733" stroke-width="0.8"/>
<text transform="translate(498.02,74.60) scale(1.08,1)" text-anchor="middle" class="let">c</text>
<line x1="509.77" y1="43.17" x2="509.77" y2="40.46" stroke="#5e5e5e" stroke-width="1"/>
<line x1="506.77" y1="40.46" x2="512.77" y2="40.46" stroke="#5e5e5e" stroke-width="1"/>
<rect x="506.27" y="43.17" width="7.0" height="141.73" fill="url(#btr04)" stroke="#2a2733" stroke-width="0.8"/>
<text transform="translate(509.77,39.20) scale(1.08,1)" text-anchor="middle" class="let">a</text>
<line x1="583.93" y1="184.9" x2="583.93" y2="187.9" stroke="#8f8f8f" stroke-width="1"/>
<text x="583.93" y="204.40" text-anchor="middle" class="cat">Heat stress</text>
<line x1="560.43" y1="117.53" x2="560.43" y2="115.73" stroke="#5e5e5e" stroke-width="1"/>
<line x1="557.43" y1="115.73" x2="563.43" y2="115.73" stroke="#5e5e5e" stroke-width="1"/>
<rect x="556.93" y="117.53" width="7.0" height="67.37" fill="url(#btr10)" stroke="#2a2733" stroke-width="0.8"/>
<text transform="translate(560.43,113.10) scale(1.08,1)" text-anchor="middle" class="let">f</text>
<line x1="572.18" y1="115.73" x2="572.18" y2="112.62" stroke="#5e5e5e" stroke-width="1"/>
<line x1="569.18" y1="112.62" x2="575.18" y2="112.62" stroke="#5e5e5e" stroke-width="1"/>
<rect x="568.68" y="115.73" width="7.0" height="69.17" fill="url(#btr11)" stroke="#2a2733" stroke-width="0.8"/>
<text transform="translate(572.18,110.20) scale(1.08,1)" text-anchor="middle" class="let">f</text>
<line x1="583.93" y1="101.65" x2="583.93" y2="99.23" stroke="#5e5e5e" stroke-width="1"/>
<line x1="580.93" y1="99.23" x2="586.93" y2="99.23" stroke="#5e5e5e" stroke-width="1"/>
<rect x="580.43" y="101.65" width="7.0" height="83.25" fill="url(#btr12)" stroke="#2a2733" stroke-width="0.8"/>
<text transform="translate(583.93,95.00) scale(1.08,1)" text-anchor="middle" class="let">de</text>
<line x1="595.68" y1="111.03" x2="595.68" y2="107.53" stroke="#5e5e5e" stroke-width="1"/>
<line x1="592.68" y1="107.53" x2="598.68" y2="107.53" stroke="#5e5e5e" stroke-width="1"/>
<rect x="592.18" y="111.03" width="7.0" height="73.87" fill="url(#btr13)" stroke="#2a2733" stroke-width="0.8"/>
<text transform="translate(595.68,105.60) scale(1.08,1)" text-anchor="middle" class="let">ef</text>
<line x1="607.43" y1="96.59" x2="607.43" y2="93.09" stroke="#5e5e5e" stroke-width="1"/>
<line x1="604.43" y1="93.09" x2="610.43" y2="93.09" stroke="#5e5e5e" stroke-width="1"/>
<rect x="603.93" y="96.59" width="7.0" height="88.31" fill="url(#btr14)" stroke="#2a2733" stroke-width="0.8"/>
<text transform="translate(607.43,89.30) scale(1.08,1)" text-anchor="middle" class="let">d</text>
<rect x="388.6" y="4.4" width="293.00" height="180.50" fill="none" stroke="#8f8f8f" stroke-width="1.1"/>
<text x="403.1" y="20.9" class="pl">Hiola-401</text>
<text transform="translate(355.5,94.5) rotate(-90)" text-anchor="middle" class="yt">Turgor potential (MPa)</text>
<rect x="623.7" y="4.4" width="57.90" height="60.60" fill="#fff" stroke="#8f8f8f" stroke-width="1.1"/>
<rect x="631.70" y="13.00" width="18.3" height="5.2" fill="url(#ltr0)" stroke="#2a2733" stroke-width="0.7"/>
<text x="654.00" y="17.80" class="lg">NA</text>
<rect x="631.70" y="22.55" width="18.3" height="5.2" fill="url(#ltr1)" stroke="#2a2733" stroke-width="0.7"/>
<text x="654.00" y="27.35" class="lg">WA1</text>
<rect x="631.70" y="32.10" width="18.3" height="5.2" fill="url(#ltr2)" stroke="#2a2733" stroke-width="0.7"/>
<text x="654.00" y="36.90" class="lg">TU1</text>
<rect x="631.70" y="41.65" width="18.3" height="5.2" fill="url(#ltr3)" stroke="#2a2733" stroke-width="0.7"/>
<text x="654.00" y="46.45" class="lg">WA2</text>
<rect x="631.70" y="51.20" width="18.3" height="5.2" fill="url(#ltr4)" stroke="#2a2733" stroke-width="0.7"/>
<text x="654.00" y="56.00" class="lg">TU2</text>
<line x1="42.50" y1="416.40" x2="45.5" y2="416.40" stroke="#8f8f8f" stroke-width="1"/>
<text x="36.80" y="420.00" text-anchor="end" class="tk">0</text>
<line x1="42.50" y1="380.22" x2="45.5" y2="380.22" stroke="#8f8f8f" stroke-width="1"/>
<text x="36.80" y="383.82" text-anchor="end" class="tk">20</text>
<line x1="42.50" y1="344.04" x2="45.5" y2="344.04" stroke="#8f8f8f" stroke-width="1"/>
<text x="36.80" y="347.64" text-anchor="end" class="tk">40</text>
<line x1="42.50" y1="307.86" x2="45.5" y2="307.86" stroke="#8f8f8f" stroke-width="1"/>
<text x="36.80" y="311.46" text-anchor="end" class="tk">60</text>
<line x1="42.50" y1="271.68" x2="45.5" y2="271.68" stroke="#8f8f8f" stroke-width="1"/>
<text x="36.80" y="275.28" text-anchor="end" class="tk">80</text>
<line x1="42.50" y1="235.50" x2="45.5" y2="235.50" stroke="#8f8f8f" stroke-width="1"/>
<text x="36.80" y="239.10" text-anchor="end" class="tk">100</text>
<line x1="143.53" y1="416.4" x2="143.53" y2="419.4" stroke="#8f8f8f" stroke-width="1"/>
<text x="143.53" y="435.90" text-anchor="middle" class="cat">Control</text>
<line x1="120.03" y1="289.37" x2="120.03" y2="286.11" stroke="#5e5e5e" stroke-width="1"/>
<line x1="117.03" y1="286.11" x2="123.03" y2="286.11" stroke="#5e5e5e" stroke-width="1"/>
<rect x="116.53" y="289.37" width="7.0" height="127.03" fill="url(#bbl00)" stroke="#2a2733" stroke-width="0.8"/>
<text transform="translate(120.03,283.10) scale(1.08,1)" text-anchor="middle" class="let">b</text>
<line x1="131.78" y1="288.64" x2="131.78" y2="284.84" stroke="#5e5e5e" stroke-width="1"/>
<line x1="128.78" y1="284.84" x2="134.78" y2="284.84" stroke="#5e5e5e" stroke-width="1"/>
<rect x="128.28" y="288.64" width="7.0" height="127.76" fill="url(#bbl01)" stroke="#2a2733" stroke-width="0.8"/>
<text transform="translate(131.78,282.60) scale(1.08,1)" text-anchor="middle" class="let">b</text>
<line x1="143.53" y1="275.07" x2="143.53" y2="272.90" stroke="#5e5e5e" stroke-width="1"/>
<line x1="140.53" y1="272.90" x2="146.53" y2="272.90" stroke="#5e5e5e" stroke-width="1"/>
<rect x="140.03" y="275.07" width="7.0" height="141.33" fill="url(#bbl02)" stroke="#2a2733" stroke-width="0.8"/>
<text transform="translate(143.53,269.70) scale(1.08,1)" text-anchor="middle" class="let">a</text>
<line x1="155.28" y1="287.38" x2="155.28" y2="283.76" stroke="#5e5e5e" stroke-width="1"/>
<line x1="152.28" y1="283.76" x2="158.28" y2="283.76" stroke="#5e5e5e" stroke-width="1"/>
<rect x="151.78" y="287.38" width="7.0" height="129.02" fill="url(#bbl03)" stroke="#2a2733" stroke-width="0.8"/>
<text transform="translate(155.28,281.00) scale(1.08,1)" text-anchor="middle" class="let">b</text>
<line x1="167.03" y1="267.84" x2="167.03" y2="263.68" stroke="#5e5e5e" stroke-width="1"/>
<line x1="164.03" y1="263.68" x2="170.03" y2="263.68" stroke="#5e5e5e" stroke-width="1"/>
<rect x="163.53" y="267.84" width="7.0" height="148.56" fill="url(#bbl04)" stroke="#2a2733" stroke-width="0.8"/>
<text transform="translate(167.03,261.50) scale(1.08,1)" text-anchor="middle" class="let">a</text>
<line x1="241.57" y1="416.4" x2="241.57" y2="419.4" stroke="#8f8f8f" stroke-width="1"/>
<text x="241.57" y="435.90" text-anchor="middle" class="cat">Heat stress</text>
<line x1="218.07" y1="337.48" x2="218.07" y2="333.87" stroke="#5e5e5e" stroke-width="1"/>
<line x1="215.07" y1="333.87" x2="221.07" y2="333.87" stroke="#5e5e5e" stroke-width="1"/>
<rect x="214.57" y="337.48" width="7.0" height="78.92" fill="url(#bbl10)" stroke="#2a2733" stroke-width="0.8"/>
<text transform="translate(218.07,332.00) scale(1.08,1)" text-anchor="middle" class="let">e</text>
<line x1="229.82" y1="335.31" x2="229.82" y2="332.06" stroke="#5e5e5e" stroke-width="1"/>
<line x1="226.82" y1="332.06" x2="232.82" y2="332.06" stroke="#5e5e5e" stroke-width="1"/>
<rect x="226.32" y="335.31" width="7.0" height="81.09" fill="url(#bbl11)" stroke="#2a2733" stroke-width="0.8"/>
<text transform="translate(229.82,328.90) scale(1.08,1)" text-anchor="middle" class="let">e</text>
<line x1="241.57" y1="326.63" x2="241.57" y2="322.47" stroke="#5e5e5e" stroke-width="1"/>
<line x1="238.57" y1="322.47" x2="244.57" y2="322.47" stroke="#5e5e5e" stroke-width="1"/>
<rect x="238.07" y="326.63" width="7.0" height="89.77" fill="url(#bbl12)" stroke="#2a2733" stroke-width="0.8"/>
<text transform="translate(241.57,317.80) scale(1.08,1)" text-anchor="middle" class="let">cd</text>
<line x1="253.32" y1="332.60" x2="253.32" y2="329.16" stroke="#5e5e5e" stroke-width="1"/>
<line x1="250.32" y1="329.16" x2="256.32" y2="329.16" stroke="#5e5e5e" stroke-width="1"/>
<rect x="249.82" y="332.60" width="7.0" height="83.80" fill="url(#bbl13)" stroke="#2a2733" stroke-width="0.8"/>
<text transform="translate(253.32,326.90) scale(1.08,1)" text-anchor="middle" class="let">de</text>
<line x1="265.07" y1="323.92" x2="265.07" y2="318.85" stroke="#5e5e5e" stroke-width="1"/>
<line x1="262.07" y1="318.85" x2="268.07" y2="318.85" stroke="#5e5e5e" stroke-width="1"/>
<rect x="261.57" y="323.92" width="7.0" height="92.48" fill="url(#bbl14)" stroke="#2a2733" stroke-width="0.8"/>
<text transform="translate(265.07,314.20) scale(1.08,1)" text-anchor="middle" class="let">c</text>
<rect x="45.5" y="235.5" width="294.10" height="180.90" fill="none" stroke="#8f8f8f" stroke-width="1.1"/>
<text x="65.0" y="249.1" class="pl">45S42</text>
<text transform="translate(12.2,327.6) rotate(-90)" text-anchor="middle" class="yt">Leaf relative water content (%)</text>
<rect x="280.8" y="235.5" width="58.80" height="59.90" fill="#fff" stroke="#8f8f8f" stroke-width="1.1"/>
<rect x="288.80" y="244.10" width="18.3" height="5.2" fill="url(#lbl0)" stroke="#2a2733" stroke-width="0.7"/>
<text x="311.10" y="248.90" class="lg">NA</text>
<rect x="288.80" y="253.65" width="18.3" height="5.2" fill="url(#lbl1)" stroke="#2a2733" stroke-width="0.7"/>
<text x="311.10" y="258.45" class="lg">WA1</text>
<rect x="288.80" y="263.20" width="18.3" height="5.2" fill="url(#lbl2)" stroke="#2a2733" stroke-width="0.7"/>
<text x="311.10" y="268.00" class="lg">TU1</text>
<rect x="288.80" y="272.75" width="18.3" height="5.2" fill="url(#lbl3)" stroke="#2a2733" stroke-width="0.7"/>
<text x="311.10" y="277.55" class="lg">WA2</text>
<rect x="288.80" y="282.30" width="18.3" height="5.2" fill="url(#lbl4)" stroke="#2a2733" stroke-width="0.7"/>
<text x="311.10" y="287.10" class="lg">TU2</text>
<line x1="392.70" y1="412.90" x2="395.7" y2="412.90" stroke="#8f8f8f" stroke-width="1"/>
<text x="387.00" y="416.50" text-anchor="end" class="tk">0</text>
<line x1="392.70" y1="377.48" x2="395.7" y2="377.48" stroke="#8f8f8f" stroke-width="1"/>
<text x="387.00" y="381.08" text-anchor="end" class="tk">20</text>
<line x1="392.70" y1="342.06" x2="395.7" y2="342.06" stroke="#8f8f8f" stroke-width="1"/>
<text x="387.00" y="345.66" text-anchor="end" class="tk">40</text>
<line x1="392.70" y1="306.64" x2="395.7" y2="306.64" stroke="#8f8f8f" stroke-width="1"/>
<text x="387.00" y="310.24" text-anchor="end" class="tk">60</text>
<line x1="392.70" y1="271.22" x2="395.7" y2="271.22" stroke="#8f8f8f" stroke-width="1"/>
<text x="387.00" y="274.82" text-anchor="end" class="tk">80</text>
<line x1="392.70" y1="235.80" x2="395.7" y2="235.80" stroke="#8f8f8f" stroke-width="1"/>
<text x="387.00" y="239.40" text-anchor="end" class="tk">100</text>
<line x1="491.60" y1="412.9" x2="491.60" y2="415.9" stroke="#8f8f8f" stroke-width="1"/>
<text x="491.60" y="432.40" text-anchor="middle" class="cat">Control</text>
<line x1="468.10" y1="297.75" x2="468.10" y2="294.92" stroke="#5e5e5e" stroke-width="1"/>
<line x1="465.10" y1="294.92" x2="471.10" y2="294.92" stroke="#5e5e5e" stroke-width="1"/>
<rect x="464.60" y="297.75" width="7.0" height="115.15" fill="url(#bbr00)" stroke="#2a2733" stroke-width="0.8"/>
<text transform="translate(468.10,292.10) scale(1.08,1)" text-anchor="middle" class="let">c</text>
<line x1="479.85" y1="296.34" x2="479.85" y2="293.68" stroke="#5e5e5e" stroke-width="1"/>
<line x1="476.85" y1="293.68" x2="482.85" y2="293.68" stroke="#5e5e5e" stroke-width="1"/>
<rect x="476.35" y="296.34" width="7.0" height="116.56" fill="url(#bbr01)" stroke="#2a2733" stroke-width="0.8"/>
<text transform="translate(479.85,292.10) scale(1.08,1)" text-anchor="middle" class="let">c</text>
<line x1="491.60" y1="286.60" x2="491.60" y2="281.81" stroke="#5e5e5e" stroke-width="1"/>
<line x1="488.60" y1="281.81" x2="494.60" y2="281.81" stroke="#5e5e5e" stroke-width="1"/>
<rect x="488.10" y="286.60" width="7.0" height="126.30" fill="url(#bbr02)" stroke="#2a2733" stroke-width="0.8"/>
<text transform="translate(491.60,277.60) scale(1.08,1)" text-anchor="middle" class="let">b</text>
<line x1="503.35" y1="294.92" x2="503.35" y2="291.73" stroke="#5e5e5e" stroke-width="1"/>
<line x1="500.35" y1="291.73" x2="506.35" y2="291.73" stroke="#5e5e5e" stroke-width="1"/>
<rect x="499.85" y="294.92" width="7.0" height="117.98" fill="url(#bbr03)" stroke="#2a2733" stroke-width="0.8"/>
<text transform="translate(503.35,288.20) scale(1.08,1)" text-anchor="middle" class="let">c</text>
<line x1="515.10" y1="280.04" x2="515.10" y2="276.32" stroke="#5e5e5e" stroke-width="1"/>
<line x1="512.10" y1="276.32" x2="518.10" y2="276.32" stroke="#5e5e5e" stroke-width="1"/>
<rect x="511.60" y="280.04" width="7.0" height="132.86" fill="url(#bbr04)" stroke="#2a2733" stroke-width="0.8"/>
<text transform="translate(515.10,273.40) scale(1.08,1)" text-anchor="middle" class="let">a</text>
<line x1="587.50" y1="412.9" x2="587.50" y2="415.9" stroke="#8f8f8f" stroke-width="1"/>
<text x="587.50" y="432.40" text-anchor="middle" class="cat">Heat stress</text>
<line x1="564.00" y1="346.63" x2="564.00" y2="343.27" stroke="#5e5e5e" stroke-width="1"/>
<line x1="561.00" y1="343.27" x2="567.00" y2="343.27" stroke="#5e5e5e" stroke-width="1"/>
<rect x="560.50" y="346.63" width="7.0" height="66.27" fill="url(#bbr10)" stroke="#2a2733" stroke-width="0.8"/>
<text transform="translate(564.00,339.80) scale(1.08,1)" text-anchor="middle" class="let">e</text>
<line x1="575.75" y1="345.57" x2="575.75" y2="341.85" stroke="#5e5e5e" stroke-width="1"/>
<line x1="572.75" y1="341.85" x2="578.75" y2="341.85" stroke="#5e5e5e" stroke-width="1"/>
<rect x="572.25" y="345.57" width="7.0" height="67.33" fill="url(#bbr11)" stroke="#2a2733" stroke-width="0.8"/>
<text transform="translate(575.75,338.10) scale(1.08,1)" text-anchor="middle" class="let">e</text>
<line x1="587.50" y1="336.54" x2="587.50" y2="332.82" stroke="#5e5e5e" stroke-width="1"/>
<line x1="584.50" y1="332.82" x2="590.50" y2="332.82" stroke="#5e5e5e" stroke-width="1"/>
<rect x="584.00" y="336.54" width="7.0" height="76.36" fill="url(#bbr12)" stroke="#2a2733" stroke-width="0.8"/>
<text transform="translate(587.50,328.00) scale(1.08,1)" text-anchor="middle" class="let">d</text>
<line x1="599.25" y1="343.62" x2="599.25" y2="338.84" stroke="#5e5e5e" stroke-width="1"/>
<line x1="596.25" y1="338.84" x2="602.25" y2="338.84" stroke="#5e5e5e" stroke-width="1"/>
<rect x="595.75" y="343.62" width="7.0" height="69.28" fill="url(#bbr13)" stroke="#2a2733" stroke-width="0.8"/>
<text transform="translate(599.25,336.30) scale(1.08,1)" text-anchor="middle" class="let">e</text>
<line x1="611.00" y1="334.59" x2="611.00" y2="329.28" stroke="#5e5e5e" stroke-width="1"/>
<line x1="608.00" y1="329.28" x2="614.00" y2="329.28" stroke="#5e5e5e" stroke-width="1"/>
<rect x="607.50" y="334.59" width="7.0" height="78.31" fill="url(#bbr14)" stroke="#2a2733" stroke-width="0.8"/>
<text transform="translate(611.00,326.30) scale(1.08,1)" text-anchor="middle" class="let">d</text>
<rect x="395.7" y="235.8" width="287.70" height="177.10" fill="none" stroke="#8f8f8f" stroke-width="1.1"/>
<text x="405.0" y="252.7" class="pl">Hiola-401</text>
<text transform="translate(365.6,324.6) rotate(-90)" text-anchor="middle" class="yt">Leaf relative water content (%)</text>
<rect x="625.4" y="235.8" width="58.00" height="59.90" fill="#fff" stroke="#8f8f8f" stroke-width="1.1"/>
<rect x="633.40" y="244.40" width="18.3" height="5.2" fill="url(#lbr0)" stroke="#2a2733" stroke-width="0.7"/>
<text x="655.70" y="249.20" class="lg">NA</text>
<rect x="633.40" y="253.95" width="18.3" height="5.2" fill="url(#lbr1)" stroke="#2a2733" stroke-width="0.7"/>
<text x="655.70" y="258.75" class="lg">WA1</text>
<rect x="633.40" y="263.50" width="18.3" height="5.2" fill="url(#lbr2)" stroke="#2a2733" stroke-width="0.7"/>
<text x="655.70" y="268.30" class="lg">TU1</text>
<rect x="633.40" y="273.05" width="18.3" height="5.2" fill="url(#lbr3)" stroke="#2a2733" stroke-width="0.7"/>
<text x="655.70" y="277.85" class="lg">WA2</text>
<rect x="633.40" y="282.60" width="18.3" height="5.2" fill="url(#lbr4)" stroke="#2a2733" stroke-width="0.7"/>
<text x="655.70" y="287.40" class="lg">TU2</text>
</svg>
</body></html>
